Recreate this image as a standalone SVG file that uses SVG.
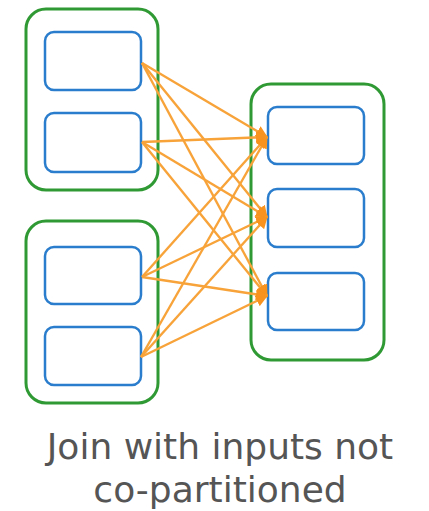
<svg xmlns="http://www.w3.org/2000/svg" width="429" height="511" viewBox="0 0 429 511">
<style>
.grp{fill:none;stroke:#2f9a33;stroke-width:3}
.part{fill:#fff;stroke:#2a7dcc;stroke-width:2.5}
.edge{stroke:#f7a33a;stroke-width:2.4;fill:none;marker-end:url(#ah)}
.lbl{font-family:"DejaVu Sans",sans-serif;font-size:36px;fill:#555;text-anchor:middle}
</style>
<defs>
<marker id="ah" markerWidth="12" markerHeight="12" refX="11" refY="6" orient="auto" markerUnits="userSpaceOnUse" viewBox="0 0 12 12">
<path d="M0,0 L12,6 L0,12 Z" fill="#f7931e"/>
</marker>
</defs>
<rect width="429" height="511" fill="#fff"/>
<g id="left-top">
<rect class="grp" x="26" y="9" width="132" height="181" rx="20"/>
<rect class="part" x="45" y="32" width="96" height="58" rx="9"/>
<rect class="part" x="45" y="113" width="96" height="59" rx="9"/>
</g>
<g id="left-bottom">
<rect class="grp" x="26" y="221" width="132" height="182" rx="20"/>
<rect class="part" x="45" y="247" width="96" height="57" rx="9"/>
<rect class="part" x="45" y="327" width="96" height="58" rx="9"/>
</g>
<g id="right">
<rect class="grp" x="251" y="84" width="133" height="276" rx="20"/>
<rect class="part" x="268" y="107" width="96" height="57" rx="9"/>
<rect class="part" x="268" y="189" width="96" height="58" rx="9"/>
<rect class="part" x="268" y="273" width="96" height="57" rx="9"/>
</g>
<g id="connectors">
<line class="edge" x1="142" y1="63" x2="267" y2="137"/>
<line class="edge" x1="142" y1="63" x2="267" y2="217"/>
<line class="edge" x1="142" y1="63" x2="267" y2="296"/>
<line class="edge" x1="142" y1="142" x2="267" y2="137"/>
<line class="edge" x1="142" y1="142" x2="267" y2="217"/>
<line class="edge" x1="142" y1="142" x2="267" y2="296"/>
<line class="edge" x1="142" y1="277" x2="267" y2="137"/>
<line class="edge" x1="142" y1="277" x2="267" y2="217"/>
<line class="edge" x1="142" y1="277" x2="267" y2="296"/>
<line class="edge" x1="141" y1="357" x2="267" y2="137"/>
<line class="edge" x1="141" y1="357" x2="267" y2="217"/>
<line class="edge" x1="141" y1="357" x2="267" y2="296"/>
</g>
<g id="caption">
<text class="lbl" x="220" y="459">Join with inputs not</text>
<text class="lbl" x="220" y="502">co-partitioned</text>
</g>
</svg>
